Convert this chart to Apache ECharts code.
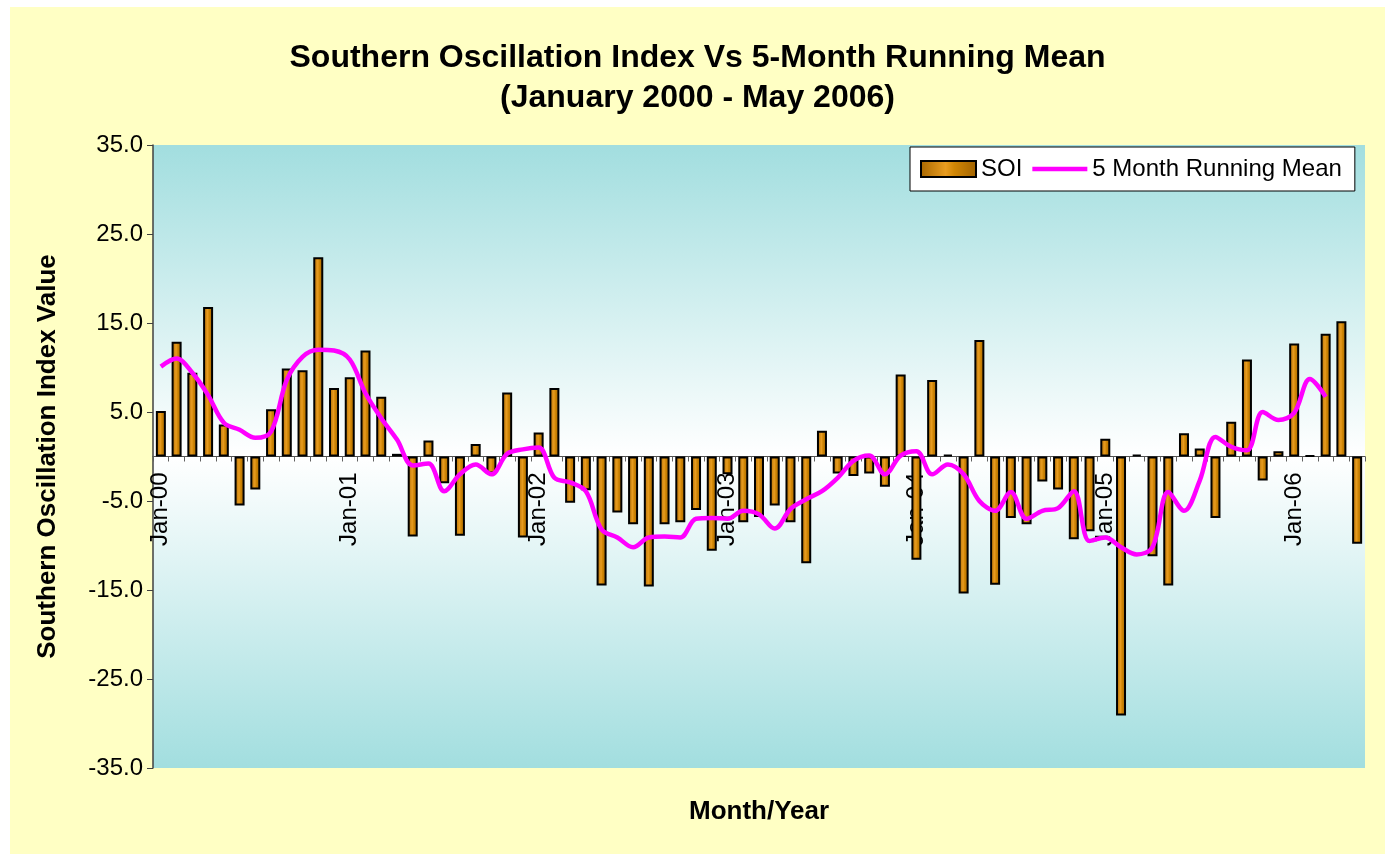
<!DOCTYPE html>
<html>
<head>
<meta charset="utf-8">
<title>SOI vs 5-Month Running Mean</title>
<script src="https://cdn.jsdelivr.net/npm/echarts@6/dist/echarts.min.js"></script>
<style>
  html, body { margin: 0; padding: 0; background: #ffffff; }
  #chart { position: absolute; left: 10px; top: 7px; width: 1375px; height: 847px; }
</style>
</head>
<body>
<div id="chart"></div>
<script>
// months Jan 2000 .. May 2006
var monthNames = ['Jan', 'Feb', 'Mar', 'Apr', 'May', 'Jun', 'Jul', 'Aug', 'Sep', 'Oct', 'Nov', 'Dec'];
var years = ['00', '01', '02', '03', '04', '05', '06'];
var categories = [];
for (var y = 0; y < years.length; y++) {
	for (var m = 0; m < 12; m++) {
		if (y == 6 && m > 4) break;
		categories.push(monthNames[m] + '-' + years[y]);
	}
}

// SOI monthly values
var soi = [
	5.1, 12.9, 9.4, 16.8, 3.6, -5.5, -3.7, 5.3, 9.9, 9.7, 22.4, 7.7,
	8.9, 11.9, 6.7, 0.3, -9.0, 1.8, -3.0, -8.9, 1.4, -1.9, 7.2, -9.1,
	2.7, 7.7, -5.2, -3.8, -14.5, -6.3, -7.6, -14.6, -7.6, -7.4, -6.0, -10.6,
	-2.0, -7.4, -6.8, -5.5, -7.4, -12.0, 2.9, -1.9, -2.2, -1.9, -3.4, 9.2,
	-11.6, 8.6, 0.2, -15.4, 13.1, -14.4, -6.9, -7.6, -2.8, -3.7, -9.3, -8.4,
	2.0, -29.1, 0.2, -11.2, -14.5, 2.6, 0.9, -6.9, 3.9, 10.9, -2.7, 0.6,
	12.7, 0.1, 13.8, 15.2, -9.8
];

// 5 month running mean (ends Mar-06)
var runningMean = [
	10.1, 11.0, 9.4, 6.9, 3.8, 3.0, 2.1, 2.8, 8.6, 11.2, 12.0, 11.9,
	10.9, 7.1, 4.3, 1.9, -1.0, -0.8, -3.9, -2.0, -0.9, -2.0, 0.3, 0.8,
	1.0, -2.4, -2.9, -3.9, -8.2, -9.1, -10.2, -9.1, -9.0, -9.1, -7.0, -6.9,
	-7.0, -6.1, -6.5, -8.1, -5.9, -4.8, -3.9, -2.4, -0.5, 0.1, -2.0, 0.1,
	0.6, -2.0, -0.9, -2.0, -5.0, -6.1, -4.0, -7.0, -6.1, -5.8, -3.9, -9.5,
	-9.1, -10.2, -11.0, -10.2, -4.0, -6.1, -2.7, 2.2, 1.1, 0.7, 5.0, 4.1,
	4.9, 8.7, 6.7, null, null
];

var yTicks = [-35, 35, 10]; // min, max, step

var font = '"Liberation Sans", Arial, sans-serif';
var myChart = echarts.init(document.getElementById('chart'));

var gridTop = 138, gridBottom = 86;
var gridHeight = 847 - gridTop - gridBottom;
// move the category axis up onto the zero line (labels included)
var zeroOffset = -gridHeight * (0 - yTicks[0]) / (yTicks[1] - yTicks[0]);

var barColor = new echarts.graphic.LinearGradient(0, 0, 1, 0, [
	{ offset: 0, color: '#a86700' },
	{ offset: 0.45, color: '#e89c20' },
	{ offset: 0.6, color: '#d08605' },
	{ offset: 1, color: '#a06200' }
]);

var option = {
	backgroundColor: '#ffffc4',
	animation: false,
	title: {
		show: true,
		text: 'Southern Oscillation Index Vs 5-Month Running Mean\n(January 2000 - May 2006)',
		left: 'center',
		top: 31,
		padding: 0,
		textStyle: {
			fontFamily: font,
			fontSize: 32,
			fontWeight: 'bold',
			color: '#000',
			lineHeight: 40
		}
	},
	graphic: [
		{
			type: 'text',
			left: 679,
			top: 792,
			style: {
				text: 'Month/Year',
				font: 'bold 26px ' + font,
				fill: '#000'
			}
		}
	],
	legend: {
		left: 900,
		top: 140,
		padding: [10, 13, 10, 10],
		itemGap: 10,
		itemWidth: 55,
		itemHeight: 16,
		backgroundColor: '#ffffff',
		borderColor: '#000',
		borderWidth: 1,
		borderRadius: 0,
		textStyle: {
			fontFamily: font,
			fontSize: 24,
			color: '#000'
		},
		data: [
			{ name: 'SOI', icon: 'rect' },
			{ name: '5 Month Running Mean', icon: 'path://M0,0L55,0L55,4.5L0,4.5Z' }
		]
	},
	grid: {
		left: 143,
		right: 20,
		top: gridTop,
		bottom: gridBottom,
		show: true,
		borderWidth: 0,
		backgroundColor: new echarts.graphic.LinearGradient(0, 0, 0, 1, [
			{ offset: 0, color: '#a2dedf' },
			{ offset: 0.5, color: '#ffffff' },
			{ offset: 1, color: '#a2dedf' }
		])
	},
	xAxis: {
		type: 'category',
		data: categories,
		position: 'bottom',
		offset: zeroOffset,
		axisLine: {
			onZero: false,
			lineStyle: { color: '#505050', width: 1 }
		},
		axisTick: {
			show: true,
			interval: 0,
			length: 5,
			lineStyle: { color: '#606060' }
		},
		axisLabel: {
			interval: 11,
			rotate: 90,
			margin: 16,
			fontFamily: font,
			fontSize: 24,
			color: '#000'
		},
		splitLine: { show: false }
	},
	yAxis: {
		type: 'value',
		min: yTicks[0],
		max: yTicks[1],
		interval: yTicks[2],
		name: 'Southern Oscillation Index Value',
		nameLocation: 'middle',
		nameGap: 92,
		nameTextStyle: {
			fontFamily: font,
			fontSize: 26,
			fontWeight: 'bold',
			color: '#000'
		},
		axisLine: {
			show: true,
			lineStyle: { color: '#404040', width: 1.5 }
		},
		axisTick: {
			show: true,
			length: 6,
			lineStyle: { color: '#404040' }
		},
		axisLabel: {
			margin: 10,
			fontFamily: font,
			fontSize: 24,
			color: '#000',
			formatter: function (v) { return v.toFixed(1); }
		},
		splitLine: { show: false }
	},
	series: [
		{
			name: 'SOI',
			type: 'bar',
			barWidth: 10,
			itemStyle: {
				color: barColor,
				borderColor: '#000',
				borderWidth: 2
			},
			data: soi
		},
		{
			name: '5 Month Running Mean',
			type: 'line',
			smooth: 0.35,
			symbol: 'none',
			connectNulls: false,
			itemStyle: { color: '#ff00ff' },
			lineStyle: { color: '#ff00ff', width: 4.5 },
			z: 3,
			data: runningMean
		}
	]
};

myChart.setOption(option);
</script>
</body>
</html>
